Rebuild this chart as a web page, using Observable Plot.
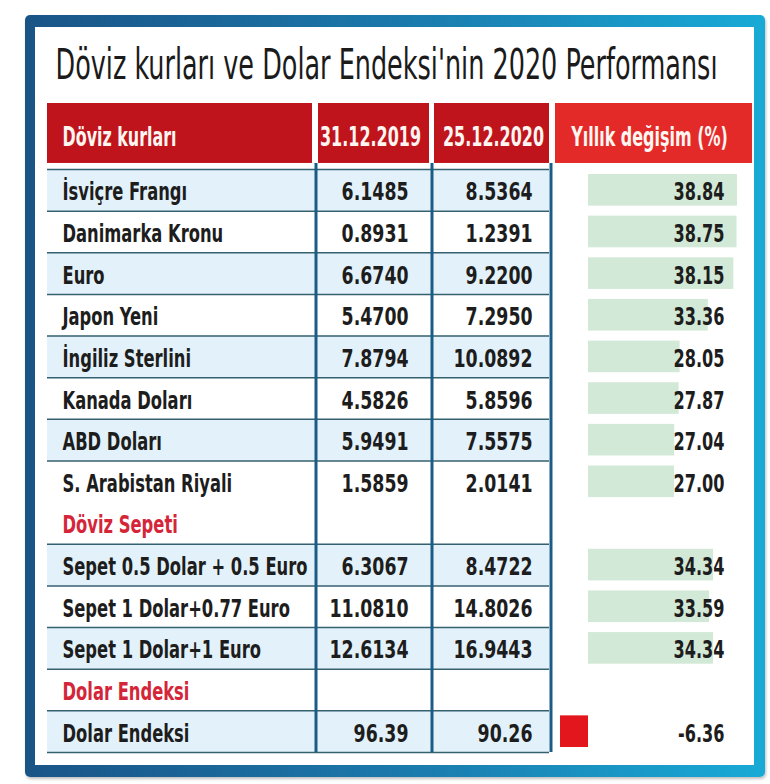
<!DOCTYPE html>
<html>
<head>
<meta charset="utf-8">
<script src="https://cdn.jsdelivr.net/npm/d3@7"></script>
<script src="https://cdn.jsdelivr.net/npm/@observablehq/plot@0.6"></script>
<style>
  html, body { margin: 0; padding: 0; background: #fff; }
  #wrap { position: relative; width: 770px; height: 784px; overflow: hidden; background: #fff; }
  #frame { position: absolute; left: 25px; top: 15px; width: 740px; height: 762px; border-radius: 5px;
           background: linear-gradient(to right, #1a5487 0%, #1b78ab 50%, #18aad6 100%);
           box-shadow: 1px 2px 3px rgba(0,0,0,0.25); }
  #inner { position: absolute; left: 35px; top: 27px; width: 719px; height: 738px; background: #fff; }
  #wrap svg { position: absolute; left: 0; top: 0; }
  #wrap svg text { font-stretch: condensed; }
</style>
</head>
<body>
<div id="wrap"><div id="frame"></div><div id="inner"></div></div>
<script>
// ---- data ----
const title = "Döviz kurları ve Dolar Endeksi'nin 2020 Performansı";
const headers = ["Döviz kurları", "31.12.2019", "25.12.2020", "Yıllık değişim (%)"];
const rowLabels = [
  "İsviçre Frangı", "Danimarka Kronu", "Euro", "Japon Yeni", "İngiliz Sterlini",
  "Kanada Doları", "ABD Doları", "S. Arabistan Riyali", "Döviz Sepeti",
  "Sepet 0.5 Dolar + 0.5 Euro", "Sepet 1 Dolar+0.77 Euro", "Sepet 1 Dolar+1 Euro",
  "Dolar Endeksi", "Dolar Endeksi"
];
const rowKinds = ["item","item","item","item","item","item","item","item","section",
                  "item","item","item","section","item"];
const rate2019 = [6.1485, 0.8931, 6.6740, 5.4700, 7.8794, 4.5826, 5.9491, 1.5859, null,
                  6.3067, 11.0810, 12.6134, null, 96.39];
const rate2020 = [8.5364, 1.2391, 9.2200, 7.2950, 10.0892, 5.8596, 7.5575, 2.0141, null,
                  8.4722, 14.8026, 16.9443, null, 90.26];
const yearlyChange = [38.84, 38.75, 38.15, 33.36, 28.05, 27.87, 27.04, 27.00, null,
                      34.34, 33.59, 34.34, null, -6.36];

// ---- layout (pixels / row units) ----
const L = {
  yRange: [169, 752],
  headerY: [-1.585, -0.145],
  headerTextY: -0.776,
  titleY: -2.507,
  titleX: 55,
  cols: [{x1: 47, x2: 312}, {x1: 318, x2: 429}, {x1: 434, x2: 549}, {x1: 555, x2: 752}],
  headerTextX: [62, 370, 493, 649],
  labelX: 62, r2019X: 408, r2020X: 532, changeX: 724,
  dividers: [315.5, 431.5, 550.5]
};
const font = "'DejaVu Sans',sans-serif";

let k = 0;
const rows = rowLabels.map((label, i) => {
  const kind = rowKinds[i];
  if (kind === "section") k = 0; else k++;
  return {i, label, kind, shaded: kind === "item" && k % 2 === 1,
          r2019: rate2019[i], r2020: rate2020[i], change: yearlyChange[i]};
});
const fmtRate = v => Math.abs(v) >= 50 ? v.toFixed(2) : v.toFixed(4);
const fmtChange = v => v.toFixed(2);
const boundaries = d3.range(15).filter(b => b !== 8);
const yScale = {type: "linear", domain: [0, 14], range: L.yRange, axis: null};

// ---- bars (data bars of yearly change) ----
const withChange = rows.filter(d => d.change != null);
const bars = Plot.plot({
  width: 770, height: 784, margin: 0,
  x: {type: "linear", domain: [d3.min(yearlyChange), 0, 27, d3.max(yearlyChange)],
      range: [560, 588, 674, 737], axis: null},
  y: yScale,
  style: {background: "transparent", overflow: "visible"},
  marks: [
    Plot.rect(withChange, {x1: 0, x2: "change", y1: d => d.i, y2: d => d.i + 1,
      insetTop: 5, insetBottom: 5,
      fill: d => d.change < 0 ? "#e3161d" : "#d3e9d7"})
  ]
});

// ---- table ----
const main = Plot.plot({
  width: 770, height: 784, margin: 0,
  x: {type: "linear", domain: [0, 770], range: [0, 770], axis: null},
  y: yScale,
  style: {background: "transparent", fontFamily: font, overflow: "visible"},
  marks: [
    Plot.rect(rows.filter(d => d.shaded), {x1: L.cols[0].x1, x2: L.cols[2].x2,
      y1: d => d.i, y2: d => d.i + 1, fill: "#e3f2fa"}),
    Plot.ruleY(boundaries, {x1: L.cols[0].x1, x2: L.cols[2].x2, stroke: "#35606f", strokeWidth: 1.5}),
    Plot.ruleX(L.dividers, {y1: L.headerY[1], y2: 14, stroke: "#1b5c87", strokeWidth: 3}),
    Plot.rect(headers, {x1: (d, i) => L.cols[i].x1, x2: (d, i) => L.cols[i].x2,
      y1: L.headerY[0], y2: L.headerY[1],
      fill: (d, i) => i < 3 ? "#c0141d" : "#e42a28"}),
    Plot.text(headers.slice(0, 1), {x: L.headerTextX[0], y: L.headerTextY, text: d => d,
      textAnchor: "start", fill: "#fff6f2", fontSize: 26, fontWeight: "bold"}),
    Plot.text(headers.slice(1), {x: (d, i) => L.headerTextX[i + 1], y: L.headerTextY, text: d => d,
      textAnchor: "middle", fill: "#fff6f2", fontSize: 26, fontWeight: "bold"}),
    Plot.text([title], {x: L.titleX, y: L.titleY, text: d => d, textAnchor: "start",
      fontSize: 42, fill: "#1b1b1b"}),
    Plot.text(rows, {x: L.labelX, y: d => d.i + 0.5, dy: 2, text: "label", textAnchor: "start",
      fontSize: 25, fontWeight: "bold",
      fill: d => d.kind === "section" ? "#d42638" : "#1d1d1d"}),
    Plot.text(rows.filter(d => d.r2019 != null), {x: L.r2019X, y: d => d.i + 0.5, dy: 2,
      text: d => fmtRate(d.r2019), textAnchor: "end", fontSize: 25, fontWeight: "bold",
      fill: "#1d1d1d"}),
    Plot.text(rows.filter(d => d.r2020 != null), {x: L.r2020X, y: d => d.i + 0.5, dy: 2,
      text: d => fmtRate(d.r2020), textAnchor: "end", fontSize: 25, fontWeight: "bold",
      fill: "#1d1d1d"}),
    Plot.text(withChange, {x: L.changeX, y: d => d.i + 0.5, dy: 2,
      text: d => fmtChange(d.change), textAnchor: "end", fontSize: 25, fontWeight: "bold",
      fill: "#1d1d1d"})
  ]
});

const wrap = document.getElementById("wrap");
wrap.appendChild(bars);
wrap.appendChild(main);

// condense text to the narrow look of the original (groups found by their content)
const allTexts = Array.from(main.querySelectorAll("text"));
function fitGroup(contents, ref, target) {
  const set = new Set(contents);
  const texts = allTexts.filter(t => set.has(t.textContent));
  if (!texts.length) return;
  const r = texts.find(t => t.textContent === ref) || texts[0];
  const f = target / r.getComputedTextLength();
  const widths = texts.map(t => t.getComputedTextLength());
  texts.forEach((t, j) => {
    t.setAttribute("textLength", (widths[j] * f).toFixed(1));
    t.setAttribute("lengthAdjust", "spacingAndGlyphs");
  });
}
fitGroup([title], title, 662);
fitGroup([headers[0]], headers[0], 114);
fitGroup(headers.slice(1), headers[1], 101);
fitGroup(rowLabels, "Sepet 0.5 Dolar + 0.5 Euro", 245);
fitGroup([...rate2019, ...rate2020].filter(v => v != null).map(fmtRate), "10.0892", 79);
fitGroup(yearlyChange.filter(v => v != null).map(fmtChange), "38.84", 51);
</script>
</body>
</html>
